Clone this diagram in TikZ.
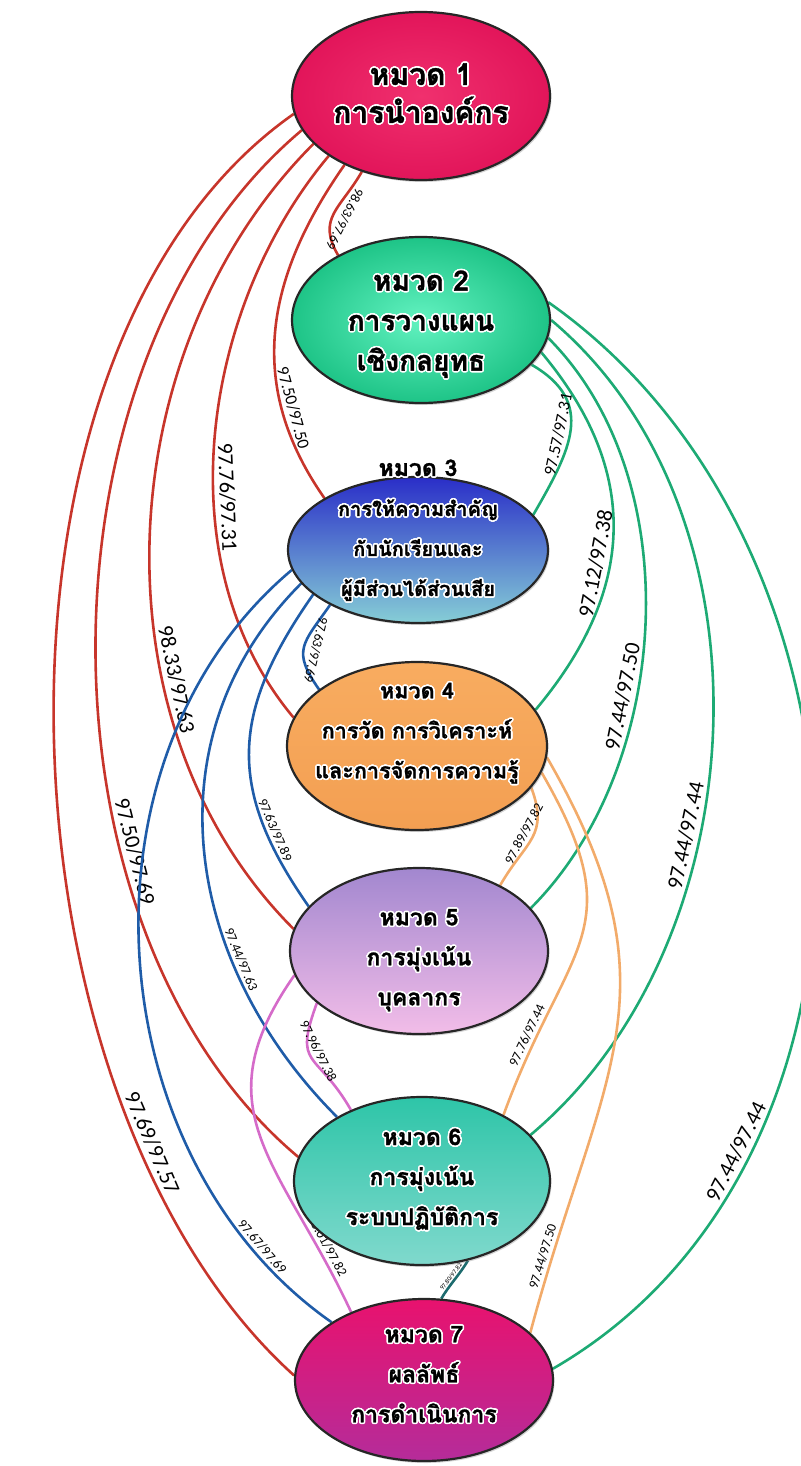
\documentclass[tikz,border=0pt]{standalone}
\usepackage{fontspec}
\usepackage{contour}
\usetikzlibrary{shapes.geometric,shadows,backgrounds}

\setmainfont{Carlito}
\newfontfamily\thaifont[Script=Thai, BoldFeatures={FakeBold=1.2}]{Loma}
\contourlength{0.8pt}

\definecolor{redline}{HTML}{C7352B}
\definecolor{greenline}{HTML}{1DAA74}
\definecolor{blueline}{HTML}{1F5CA8}
\definecolor{orangeline}{HTML}{F2AB6A}
\definecolor{pinkline}{HTML}{D56BC9}
\definecolor{tealline}{HTML}{1D6B6E}

\begin{document}
\begin{tikzpicture}
[
	                x = 0.5pt,
	                y = -0.5pt,
	       cat/.style = { draw=black!85, line width=1.1pt, ellipse, inner sep=0pt,
	                      minimum width=129pt, minimum height=83pt,
	                      drop shadow={opacity=0.35, shadow xshift=0.75pt, shadow yshift=-1pt} },
	   cattext/.style = { align=center, inner sep=0pt,
	                      font=\thaifont\bfseries\fontsize{11.5}{20}\selectfont },
	    cattop/.style = { cattext, font=\thaifont\bfseries\fontsize{15}{19}\selectfont },
	      link/.style = { line width=1.3pt },
	       val/.style = { sloped, above, text=black, inner sep=2.4pt, font=\fontsize{11}{11}\selectfont },
	    valmid/.style = { val, inner sep=2pt, font=\fontsize{8.5}{8.5}\selectfont },
	  valsmall/.style = { val, inner sep=1.5pt, font=\fontsize{6.75}{6.75}\selectfont },
	   valtiny/.style = { val, inner sep=0.5pt, font=\fontsize{3.25}{3.25}\selectfont }
]
	\useasboundingbox (0,0) rectangle (801,1466);

	% categories
	\node (E1) at (421,96)   [cat, minimum height=84pt, inner color={rgb,255:red,240;green,48;blue,110}, outer color={rgb,255:red,226;green,21;blue,90}] {};
	\node (E2) at (421,320)  [cat, inner color={rgb,255:red,98;green,242;blue,192}, outer color={rgb,255:red,30;green,196;blue,135}] {};
	\node (E3) at (418,550)  [cat, minimum width=130pt, minimum height=73pt, top color={rgb,255:red,42;green,46;blue,200}, bottom color={rgb,255:red,134;green,206;blue,214}] {};
	\node (E4) at (417,746)  [cat, minimum width=130pt, minimum height=84pt, top color={rgb,255:red,248;green,172;blue,96}, bottom color={rgb,255:red,243;green,159;blue,82}] {};
	\node (E5) at (419,951)  [cat, top color={rgb,255:red,162;green,135;blue,207}, bottom color={rgb,255:red,242;green,189;blue,232}] {};
	\node (E6) at (422,1181) [cat, minimum width=128pt, minimum height=84pt, top color={rgb,255:red,46;green,197;blue,168}, bottom color={rgb,255:red,128;green,217;blue,205}] {};
	\node (E7) at (424,1380) [cat, minimum height=81pt, top color={rgb,255:red,232;green,18;blue,110}, bottom color={rgb,255:red,181;green,44;blue,154}] {};

	% texts
	\node (T1) at (421,94)   [cattop]  {\contour{white}{หมวด 1}\\\contour{white}{การนำองค์กร}};
	\node (T2) at (421,325)  [cattop, font=\thaifont\bfseries\fontsize{14}{20}\selectfont]
		{\contour{white}{หมวด 2}\\\contour{white}{การวางแผน}\\\contour{white}{เชิงกลยุทธ}};
	\node (T3) at (418,531)  [cattext, font=\thaifont\bfseries\fontsize{10}{20}\selectfont]
		{\contour{white}{\fontsize{11.5}{20}\selectfont หมวด 3}\\\contour{white}{การให้ความสำคัญ}\\\contour{white}{กับนักเรียนและ}\\\contour{white}{ผู้มีส่วนได้ส่วนเสีย}};
	\node (T4) at (417,734)  [cattext, font=\thaifont\bfseries\fontsize{10.8}{20}\selectfont]
		{\contour{white}{หมวด 4}\\\contour{white}{การวัด การวิเคราะห์}\\\contour{white}{และการจัดการความรู้}};
	\node (T5) at (419,961)  [cattext] {\contour{white}{หมวด 5}\\\contour{white}{การมุ่งเน้น}\\\contour{white}{บุคลากร}};
	\node (T6) at (422,1180) [cattext] {\contour{white}{หมวด 6}\\\contour{white}{การมุ่งเน้น}\\\contour{white}{ระบบปฏิบัติการ}};
	\node (T7) at (424,1375) [cattext] {\contour{white}{หมวด 7}\\\contour{white}{ผลลัพธ์}\\\contour{white}{การดำเนินการ}};

	\begin{pgfonlayer}{background}
	% edges from 1
	\draw [link, redline]
		(E1.232) edge [out=240, in=120, distance=21.5pt] node [valsmall, pos=0.5, inner sep=3pt, allow upside down] {98.63/97.69} (E2.142)
		(E1.222) edge [out=235, in=125, distance=69pt]   node [valmid, pos=0.74] {97.50/97.50} (E3.151)
		(E1.213) edge [out=230, in=130, distance=100pt]  node [val, pos=0.6]     {97.76/97.31} (E4.167)
		(E1.204) edge [out=225, in=135, distance=145pt]  node [val, pos=0.67]    {98.33/97.63} (E5.170)
		(E1.196) edge [out=220, in=140, distance=178pt]  node [val, pos=0.68]    {97.50/97.69} (E6.169)
		(E1.188) edge [out=215, in=138, distance=205pt]  node [val, pos=0.79]    {97.69/97.57} (E7.178);

	% edges from 2
	\draw [link, greenline]
		(E2.-22) edge [out=-30, in=60, distance=37.5pt] node [valmid, pos=0.55] {97.57/97.31} (E3.17)
		(E2.-15) edge [out=-50, in=50, distance=78pt]   node [val, pos=0.6]  {97.12/97.38} (E4.17)
		(E2.-8)  edge [out=-45, in=45, distance=100pt]  node [val, pos=0.62] {97.44/97.50} (E5.21)
		(E2.0)   edge [out=-40, in=40, distance=150pt]  node [val, pos=0.62] {97.44/97.44} (E6.23)
		(E2.8)   edge [out=-35, in=30, distance=210pt]  node [val, pos=0.76] {97.44/97.44} (E7.5);

	% edges from 3
	\draw [link, blueline]
		(E3.212) edge [out=235, in=125, distance=24pt]    node [valsmall, pos=0.5, inner sep=3pt, allow upside down] {97.63/97.69} (E4.150)
		(E3.203) edge [out=235, in=125, distance=72pt]    node [valsmall, pos=0.78] {97.63/97.89} (E5.158)
		(E3.196) edge [out=225, in=135, distance=108.5pt] node [valsmall, pos=0.7]  {97.44/97.63} (E6.143)
		(E3.189) edge [out=220, in=145, distance=145pt]   node [valsmall, pos=0.88] {97.67/97.69} (E7.148);

	% edges from 4
	\draw [link, orangeline]
		(E4.-20) edge [out=-70, in=60, distance=26pt]   node [valsmall, pos=0.5]  {97.89/97.82} (E5.39)
		(E4.-12) edge [out=-60, in=70, distance=92.5pt] node [valsmall, pos=0.83] {97.76/97.44} (E6.39)
		(E4.-5)  edge [out=-60, in=75, distance=136pt]  node [valsmall, pos=0.9]  {97.44/97.50} (E7.24);

	% edges from 5
	\draw [link, pinkline]
		(E5.207) edge [out=250, in=120, distance=35pt] node [valsmall, pos=0.45, allow upside down] {97.96/97.38} (E6.135)
		(E5.191) edge [out=235, in=115, distance=83pt] node [valsmall, pos=0.85] {98.01/97.82} (E7.137);

	% edge from 6
	\draw [link, tealline]
		(E6.-60) edge [out=240, in=60, distance=7.5pt] node [valtiny, pos=0.5] {97.80/97.82} (E7.78);
	\end{pgfonlayer}
\end{tikzpicture}
\end{document}
